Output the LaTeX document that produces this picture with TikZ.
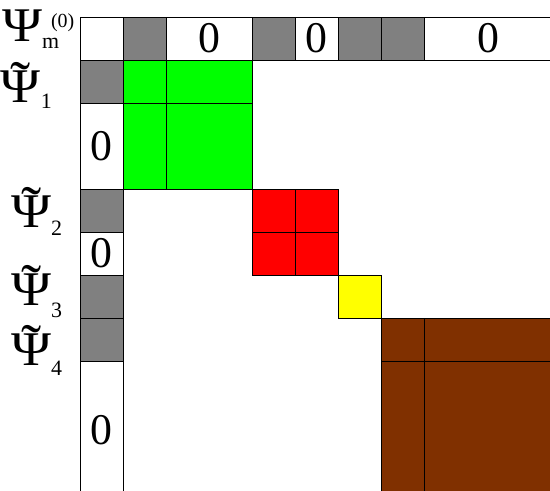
\documentclass[tikz,border=0pt]{standalone}
\usepackage{fontspec}
\setmainfont{Liberation Serif}
\definecolor{cellgray}{RGB}{128,128,128}
\definecolor{blockgreen}{RGB}{0,255,0}
\definecolor{blockred}{RGB}{255,0,0}
\definecolor{blockyellow}{RGB}{255,255,0}
\definecolor{blockbrown}{RGB}{128,48,0}
\newsavebox{\psibox}
\newsavebox{\tildebox}
\newlength{\tilderaise}
\newcommand{\bigpsi}{{\fontsize{32}{34}\selectfont\scalebox{1.12}[1]{Ψ}}}
\newcommand{\tpsi}{\sbox{\psibox}{\bigpsi}%
  \sbox{\tildebox}{\fontsize{32}{34}\selectfont\scalebox{1.25}[1.2]{˜}}%
  \setlength{\tilderaise}{\dimexpr\ht\psibox+5.4pt-\ht\tildebox\relax}%
  \rlap{\makebox[\wd\psibox]{\raisebox{\tilderaise}{\usebox{\tildebox}}}}\usebox{\psibox}}
\newcommand{\subtxt}[2][4.5pt]{\raisebox{-#1}{\fontsize{14.5}{15}\selectfont #2}}

\begin{document}
\begin{tikzpicture}[x=1cm, y=-1cm]
        \tikzstyle{every node}=[inner sep=0pt, outer sep=0pt, font=\fontsize{29}{32}\selectfont]
        \tikzstyle{cell}=[draw=black, line width=0.6pt, anchor=north west, minimum width=1cm, minimum height=1cm]
        \tikzstyle{gray cell}=[cell, fill=cellgray]
        \tikzstyle{psi label}=[anchor=base west]
        \useasboundingbox (-1.8605,-0.3953) rectangle (10.93,11);
        \clip (-1.8605,-0.3953) rectangle (10.93,11);
        % top row
        \node[cell] (top0) at (0,0) {};
        \node[gray cell] (top1) at (1,0) {};
        \node[cell, minimum width=2cm] (top2) at (2,0) {0};
        \node[gray cell] (top4) at (4,0) {};
        \node[cell] (top5) at (5,0) {0};
        \node[gray cell] (top6) at (6,0) {};
        \node[gray cell] (top7) at (7,0) {};
        \node[cell, minimum width=3cm] (top8) at (8,0) {0};
        % left column
        \node[gray cell] (left1) at (0,1) {};
        \node[cell, minimum height=2cm] (left2) at (0,2) {0};
        \node[gray cell] (left4) at (0,4) {};
        \node[cell] (left5) at (0,5) {0};
        \node[gray cell] (left6) at (0,6) {};
        \node[gray cell] (left7) at (0,7) {};
        \node[cell, minimum height=3.2cm] (left8) at (0,8) {0};
        % blocks
        \node[cell, fill=blockgreen] (green11) at (1,1) {};
        \node[cell, fill=blockgreen, minimum width=2cm] (green21) at (2,1) {};
        \node[cell, fill=blockgreen, minimum height=2cm] (green12) at (1,2) {};
        \node[cell, fill=blockgreen, minimum width=2cm, minimum height=2cm] (green22) at (2,2) {};
        \node[cell, fill=blockred] (red44) at (4,4) {};
        \node[cell, fill=blockred] (red54) at (5,4) {};
        \node[cell, fill=blockred] (red45) at (4,5) {};
        \node[cell, fill=blockred] (red55) at (5,5) {};
        \node[cell, fill=blockyellow] (yellow66) at (6,6) {};
        \node[cell, fill=blockbrown] (brown77) at (7,7) {};
        \node[cell, fill=blockbrown, minimum width=3.5cm] (brown87) at (8,7) {};
        \node[cell, fill=blockbrown, minimum height=3.5cm] (brown78) at (7,8) {};
        \node[cell, fill=blockbrown, minimum width=3.5cm, minimum height=3.5cm] (brown88) at (8,8) {};
        % labels
        \node[psi label] (psim) at (-1.81,0.581) {\bigpsi\subtxt{m}\hspace{-5.4pt}\raisebox{9.9pt}{\fontsize{13.2}{14}\selectfont(0)}};
        \node[psi label] (psi1) at (-1.84,1.977) {\tpsi\subtxt[4pt]{1}};
        \node[psi label] (psi2) at (-1.6,4.884) {\tpsi\subtxt[5.3pt]{2}};
        \node[psi label] (psi3) at (-1.6,6.70) {\tpsi\subtxt[8pt]{3}};
        \node[psi label] (psi4) at (-1.6,8.1) {\tpsi\subtxt[6.5pt]{4}};
    \end{tikzpicture}
\end{document}
